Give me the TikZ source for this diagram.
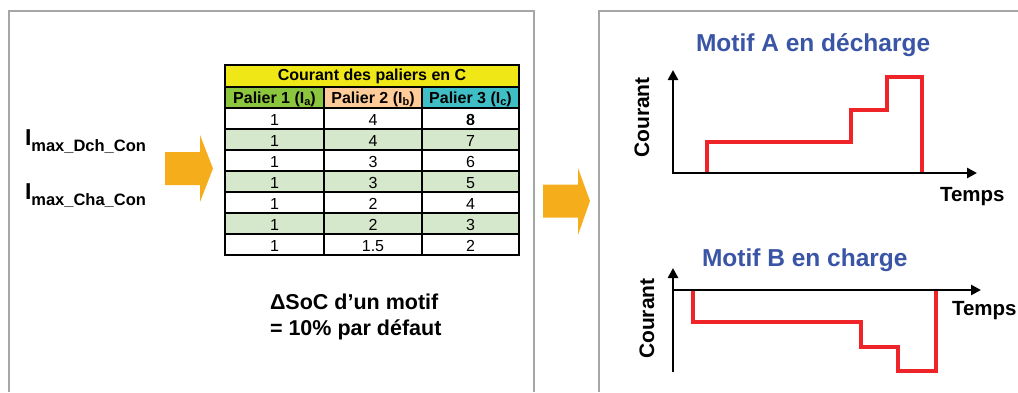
\documentclass[tikz,border=0pt]{standalone}
\usepackage{fontspec}
\setmainfont{Liberation Sans}
\usetikzlibrary{arrows.meta}
\definecolor{panelgray}{HTML}{A6A6A6}
\definecolor{arrorange}{HTML}{F5AD1C}
\definecolor{hdyellow}{HTML}{F0E716}
\definecolor{hdgreen}{HTML}{8CC63E}
\definecolor{hdpeach}{HTML}{FFCC99}
\definecolor{hdteal}{HTML}{3FBFC5}
\definecolor{rowgreen}{HTML}{D5E8CB}
\definecolor{titleblue}{HTML}{3A55A5}
\definecolor{stepred}{HTML}{EE2428}
\tikzset{
  panel/.style={draw=panelgray, line width=1.5pt},
  blockarrow/.style={fill=arrorange},
  tline/.style={line width=2pt, black},
  txt/.style={inner sep=0pt, outer sep=0pt},
  cellnum/.style={txt, anchor=base, font=\fontsize{16}{18}\selectfont},
  cellhd/.style={txt, anchor=base, font=\bfseries\fontsize{16}{19}\selectfont},
  axisline/.style={line width=2.5pt, line join=miter},
  redstep/.style={draw=stepred, line width=3.5pt, line join=miter},
  ptitle/.style={txt, anchor=base west, text=titleblue, font=\bfseries\fontsize{24.5}{28}\selectfont},
  axlabel/.style={txt, font=\bfseries\fontsize{21}{24}\selectfont},
  imaxlabel/.style={txt, anchor=base west, font=\bfseries\fontsize{23}{26}\selectfont},
  soclabel/.style={txt, anchor=base west, font=\bfseries\fontsize{21.5}{26}\selectfont},
}
\newcommand{\subtxt}[1]{\raisebox{-6.5pt}{\fontsize{16.5}{18}\selectfont #1}}
\newcommand{\hsub}[1]{\raisebox{-2.5pt}{\fontsize{11}{12}\selectfont #1}}
\begin{document}
\begin{tikzpicture}[x=1pt,y=-1pt]
\useasboundingbox (0,0) rectangle (1018,392);
% panels
\draw[panel] (9,392) -- (9,11) -- (534,11) -- (534,392);
\draw[panel] (599,392) -- (599,11) -- (1018,11);

% left labels
\node[imaxlabel] (imaxd) at (25,145) {I\subtxt{max\_Dch\_Con}};
\node[imaxlabel] (imaxc) at (25,199) {I\subtxt{max\_Cha\_Con}};

% block arrows
\fill[blockarrow] (165,152) -- (200,152) -- (200,135) -- (213,168.5) -- (200,202) -- (200,185) -- (165,185) -- cycle;
\fill[blockarrow] (543,184.5) -- (578,184.5) -- (578,168) -- (590,201) -- (578,235) -- (578,217.5) -- (543,217.5) -- cycle;

% table fills
\fill[hdyellow] (225,65) rectangle (519,87);
\fill[hdgreen] (225,87) rectangle (324,108);
\fill[hdpeach] (324,87) rectangle (422,108);
\fill[hdteal] (422,87) rectangle (519,108);
\foreach \r in {2,4,6} {
  \fill[rowgreen] (225,{108+21*(\r-1)}) rectangle (519,{108+21*\r});
}
% table lines
\foreach \yy in {87,108,129,150,171,192,213,234} {
  \draw[tline] (225,\yy) -- (519,\yy);
}
\draw[tline] (324,87) -- (324,255);
\draw[tline] (422,87) -- (422,255);
\draw[line width=2.5pt] (225,65) rectangle (519,255);

% table texts
\node[cellhd] (thead) at (372,80.7) {Courant des paliers en C};
\node[cellhd] (hp1) at (274.5,103.3) {Palier 1 (I\hsub{a})};
\node[cellhd] (hp2) at (373,103.3) {Palier 2 (I\hsub{b})};
\node[cellhd] (hp3) at (470.5,103.3) {Palier 3 (I\hsub{c})};
\foreach \r/\a/\b/\c in {1/1/4/\textbf{8},2/1/4/7,3/1/3/6,4/1/3/5,5/1/2/4,6/1/2/3,7/1/1.5/2} {
  \node[cellnum] (c\r-1) at (274.5,{108+21*(\r-1)+17.5}) {\a};
  \node[cellnum] (c\r-2) at (373,{108+21*(\r-1)+17.5}) {\b};
  \node[cellnum] (c\r-3) at (470.5,{108+21*(\r-1)+17.5}) {\c};
}

% delta SoC text
\node[soclabel] (soc1) at (270,309) {ΔSoC d’un motif};
\node[soclabel] (soc2) at (270,335) {= 10\% par défaut};

% ---- Motif A
\node[ptitle] (titleA) at (696,51) {Motif A en décharge};
\coordinate (oA) at (673,173);
\coordinate (yA) at (673,70);
\coordinate (xA) at (977,173);
\draw[redstep] (707,173) -- (707,142) -- (851,142) -- (851,110) -- (887,110) -- (887,77) -- (922,77) -- (922,173);
\draw[axisline, {Triangle[length=10pt,width=10pt]}-{Triangle[length=10pt,width=10pt]}] (yA) -- (oA) -- (xA);
\node[axlabel, rotate=90] (courA) at (642,117.5) {Courant};
\node[axlabel, anchor=base west, font=\bfseries\fontsize{20.5}{24}\selectfont] (tempsA) at (940,201) {Temps};

% ---- Motif B
\node[ptitle] (titleB) at (702,266.7) {Motif B en charge};
\coordinate (bA) at (673,372);
\coordinate (yB) at (673,268);
\coordinate (oB) at (672,290);
\coordinate (xB) at (981,290);
\draw[redstep] (693,290) -- (693,322) -- (861,322) -- (861,347) -- (898,347) -- (898,371) -- (936,371) -- (936,290);
\draw[axisline, -{Triangle[length=10pt,width=10pt]}] (bA) -- (yB);
\draw[axisline, -{Triangle[length=10pt,width=10pt]}] (oB) -- (xB);
\node[axlabel, rotate=90] (courB) at (647,318.7) {Courant};
\node[axlabel, anchor=base west, font=\bfseries\fontsize{20.5}{24}\selectfont] (tempsB) at (952,315) {Temps};
\end{tikzpicture}
\end{document}
